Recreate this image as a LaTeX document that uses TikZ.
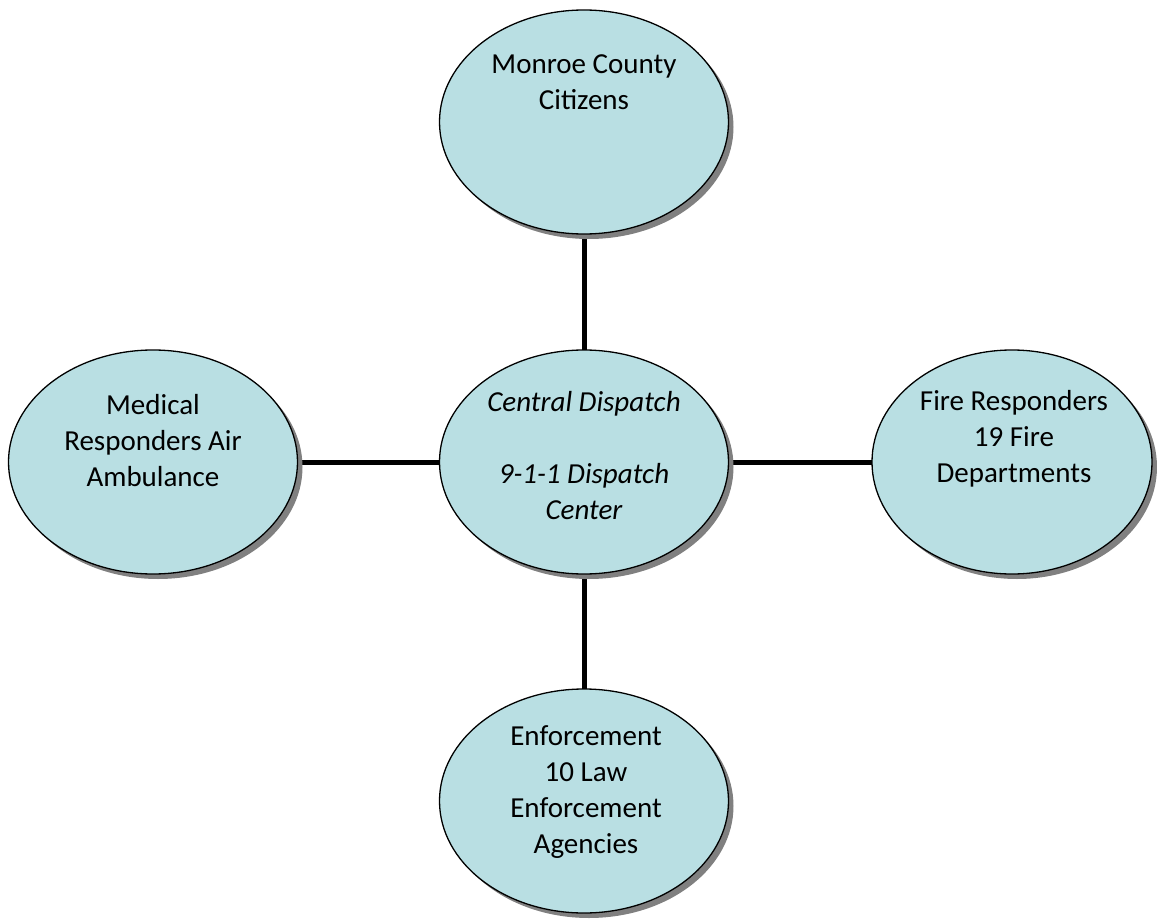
\documentclass[tikz,border=0pt]{standalone}
\usepackage{fontspec}
\setmainfont{Carlito}
\usetikzlibrary{shapes.geometric,shadows,backgrounds}
\definecolor{fillc}{HTML}{B9DFE3}
\definecolor{shadowc}{HTML}{808080}
\begin{document}
\begin{tikzpicture}[x=1pt,y=-1pt,
  bub/.style={ellipse, draw=black, line width=1.3pt, fill=fillc,
    minimum width=289pt, minimum height=224pt, inner sep=0pt, outer sep=0pt,
    drop shadow={shadow xshift=5pt, shadow yshift=-5pt, fill=shadowc, opacity=1}},
  txt/.style={align=center, font=\fontsize{29}{36}\selectfont, text=black, inner sep=0pt},
  link/.style={line width=5pt, black}]
\useasboundingbox (0,0) rectangle (1157,920);
\node[bub] (top) at (584,122) {};
\node[bub] (center) at (584,462) {};
\node[bub] (left) at (153,462) {};
\node[bub, minimum width=280pt] (right) at (1012,462) {};
\node[bub] (bottom) at (584,801) {};
\begin{scope}[on background layer]
\draw[link] (top) -- (center);
\draw[link] (center) -- (bottom);
\draw[link] (left) -- (center);
\draw[link] (center) -- (right);
\end{scope}
\node[txt] (ttop) at (584,82) {Monroe County\\Citizens};
\node[txt, font=\fontsize{29}{36}\selectfont\itshape] (tcenter) at (584,456) {Central Dispatch\\[36pt]9-1-1 Dispatch\\Center};
\node[txt] (tleft) at (153,441) {Medical\\Responders Air\\Ambulance};
\node[txt] (tright) at (1014,439) {Fire Responders\\19 Fire\\Departments};
\node[txt] (tbottom) at (586,792) {Enforcement\\10 Law\\Enforcement\\Agencies};
\end{tikzpicture}
\end{document}
